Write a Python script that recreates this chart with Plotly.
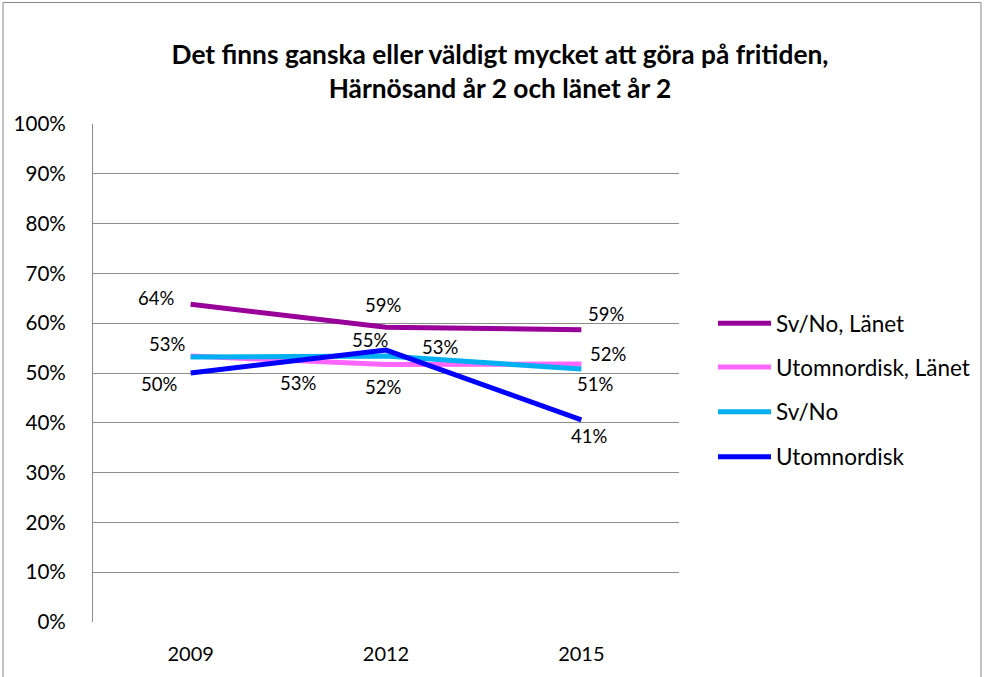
import plotly.graph_objects as go

years = ["2009", "2012", "2015"]
series_names = ["Sv/No, Länet", "Utomnordisk, Länet", "Sv/No", "Utomnordisk"]
sv_no_lanet = [63.8, 59.2, 58.7]
utomnordisk_lanet = [53.4, 51.7, 51.8]
sv_no = [53.2, 53.4, 50.8]
utomnordisk = [50.0, 54.6, 40.6]
colors = ["#990099", "#FF66FF", "#00B0F0", "#0000FF"]
y_ticks = list(range(0, 101, 10))
y_tick_labels = [f"{v}%" for v in y_ticks]

# pixel offsets of each value label from its point (dx, dy)
label_offsets = [
    [(-35, 6), (-3, 22), (25, 16)],
    [(107, -27), (-3, -22), (27, 10)],
    [(-24, 13), (54, 9), (14, -15)],
    [(-32, -11), (-16, 10), (8, -16)],
]

all_series = [sv_no_lanet, utomnordisk_lanet, sv_no, utomnordisk]
FONT = "Lato, sans-serif"

fig = go.Figure()
for name, vals, col in zip(series_names, all_series, colors):
    fig.add_trace(go.Scatter(
        x=years, y=vals, mode="lines", name=name,
        line=dict(color=col, width=5), showlegend=False,
        hoverinfo="skip",
    ))

annotations = []
for vals, offs in zip(all_series, label_offsets):
    for i, (v, (dx, dy)) in enumerate(zip(vals, offs)):
        annotations.append(dict(
            x=i, y=v, xref="x", yref="y", text=f"{round(v)}%",
            showarrow=False, xshift=dx, yshift=dy,
            font=dict(size=18.5, color="#000000", family=FONT),
        ))

# legend drawn beside the plot area
x0, x1 = 93, 679
y0, y1 = 124, 624
def px(x):
    return (x - x0) / (x1 - x0)
def py(y):
    return (y1 - y) / (y1 - y0)

shapes = []
leg_rows = [324, 368, 413, 458]
for name, col, ry in zip(series_names, colors, leg_rows):
    shapes.append(dict(type="line", xref="paper", yref="paper",
                       x0=px(718), x1=px(771), y0=py(ry), y1=py(ry),
                       line=dict(color=col, width=5)))
    annotations.append(dict(x=px(774), y=py(ry), xref="paper", yref="paper",
                            text=name, showarrow=False, xanchor="left",
                            yanchor="middle",
                            font=dict(size=22.5, color="#000000", family=FONT)))

# outer chart border
shapes.append(dict(type="rect", xref="paper", yref="paper",
                   x0=px(3), x1=px(981), y0=py(2), y1=py(690),
                   line=dict(color="#888888", width=1), layer="below"))

fig.update_layout(
    width=984, height=677,
    margin=dict(l=x0, r=984 - x1, t=y0, b=677 - y1),
    paper_bgcolor="white", plot_bgcolor="white",
    title=dict(
        text="<b>Det finns ganska eller väldigt mycket att göra på fritiden,<br>Härnösand år 2 och länet år 2</b>",
        x=500 / 984, xanchor="center", y=1 - 64 / 677, yanchor="middle",
        font=dict(size=26.3, color="#000000", family=FONT),
    ),
    xaxis=dict(
        type="category", range=[-0.5, 2.5], showgrid=False, zeroline=False,
        showline=False, ticks="", tickfont=dict(size=20, family=FONT, color="#000"),
        ticklabelstandoff=18,
    ),
    yaxis=dict(
        range=[0, 100], tickvals=y_ticks, ticktext=y_tick_labels,
        showgrid=True, gridcolor="#8C8C8C", gridwidth=1,
        zeroline=False, showline=True, linecolor="#8C8C8C", linewidth=1,
        ticks="", tickfont=dict(size=20.6, family=FONT, color="#000"),
        ticklabelstandoff=22,
    ),
    annotations=annotations, shapes=shapes,
    showlegend=False,
)

fig.write_html("out.html")
